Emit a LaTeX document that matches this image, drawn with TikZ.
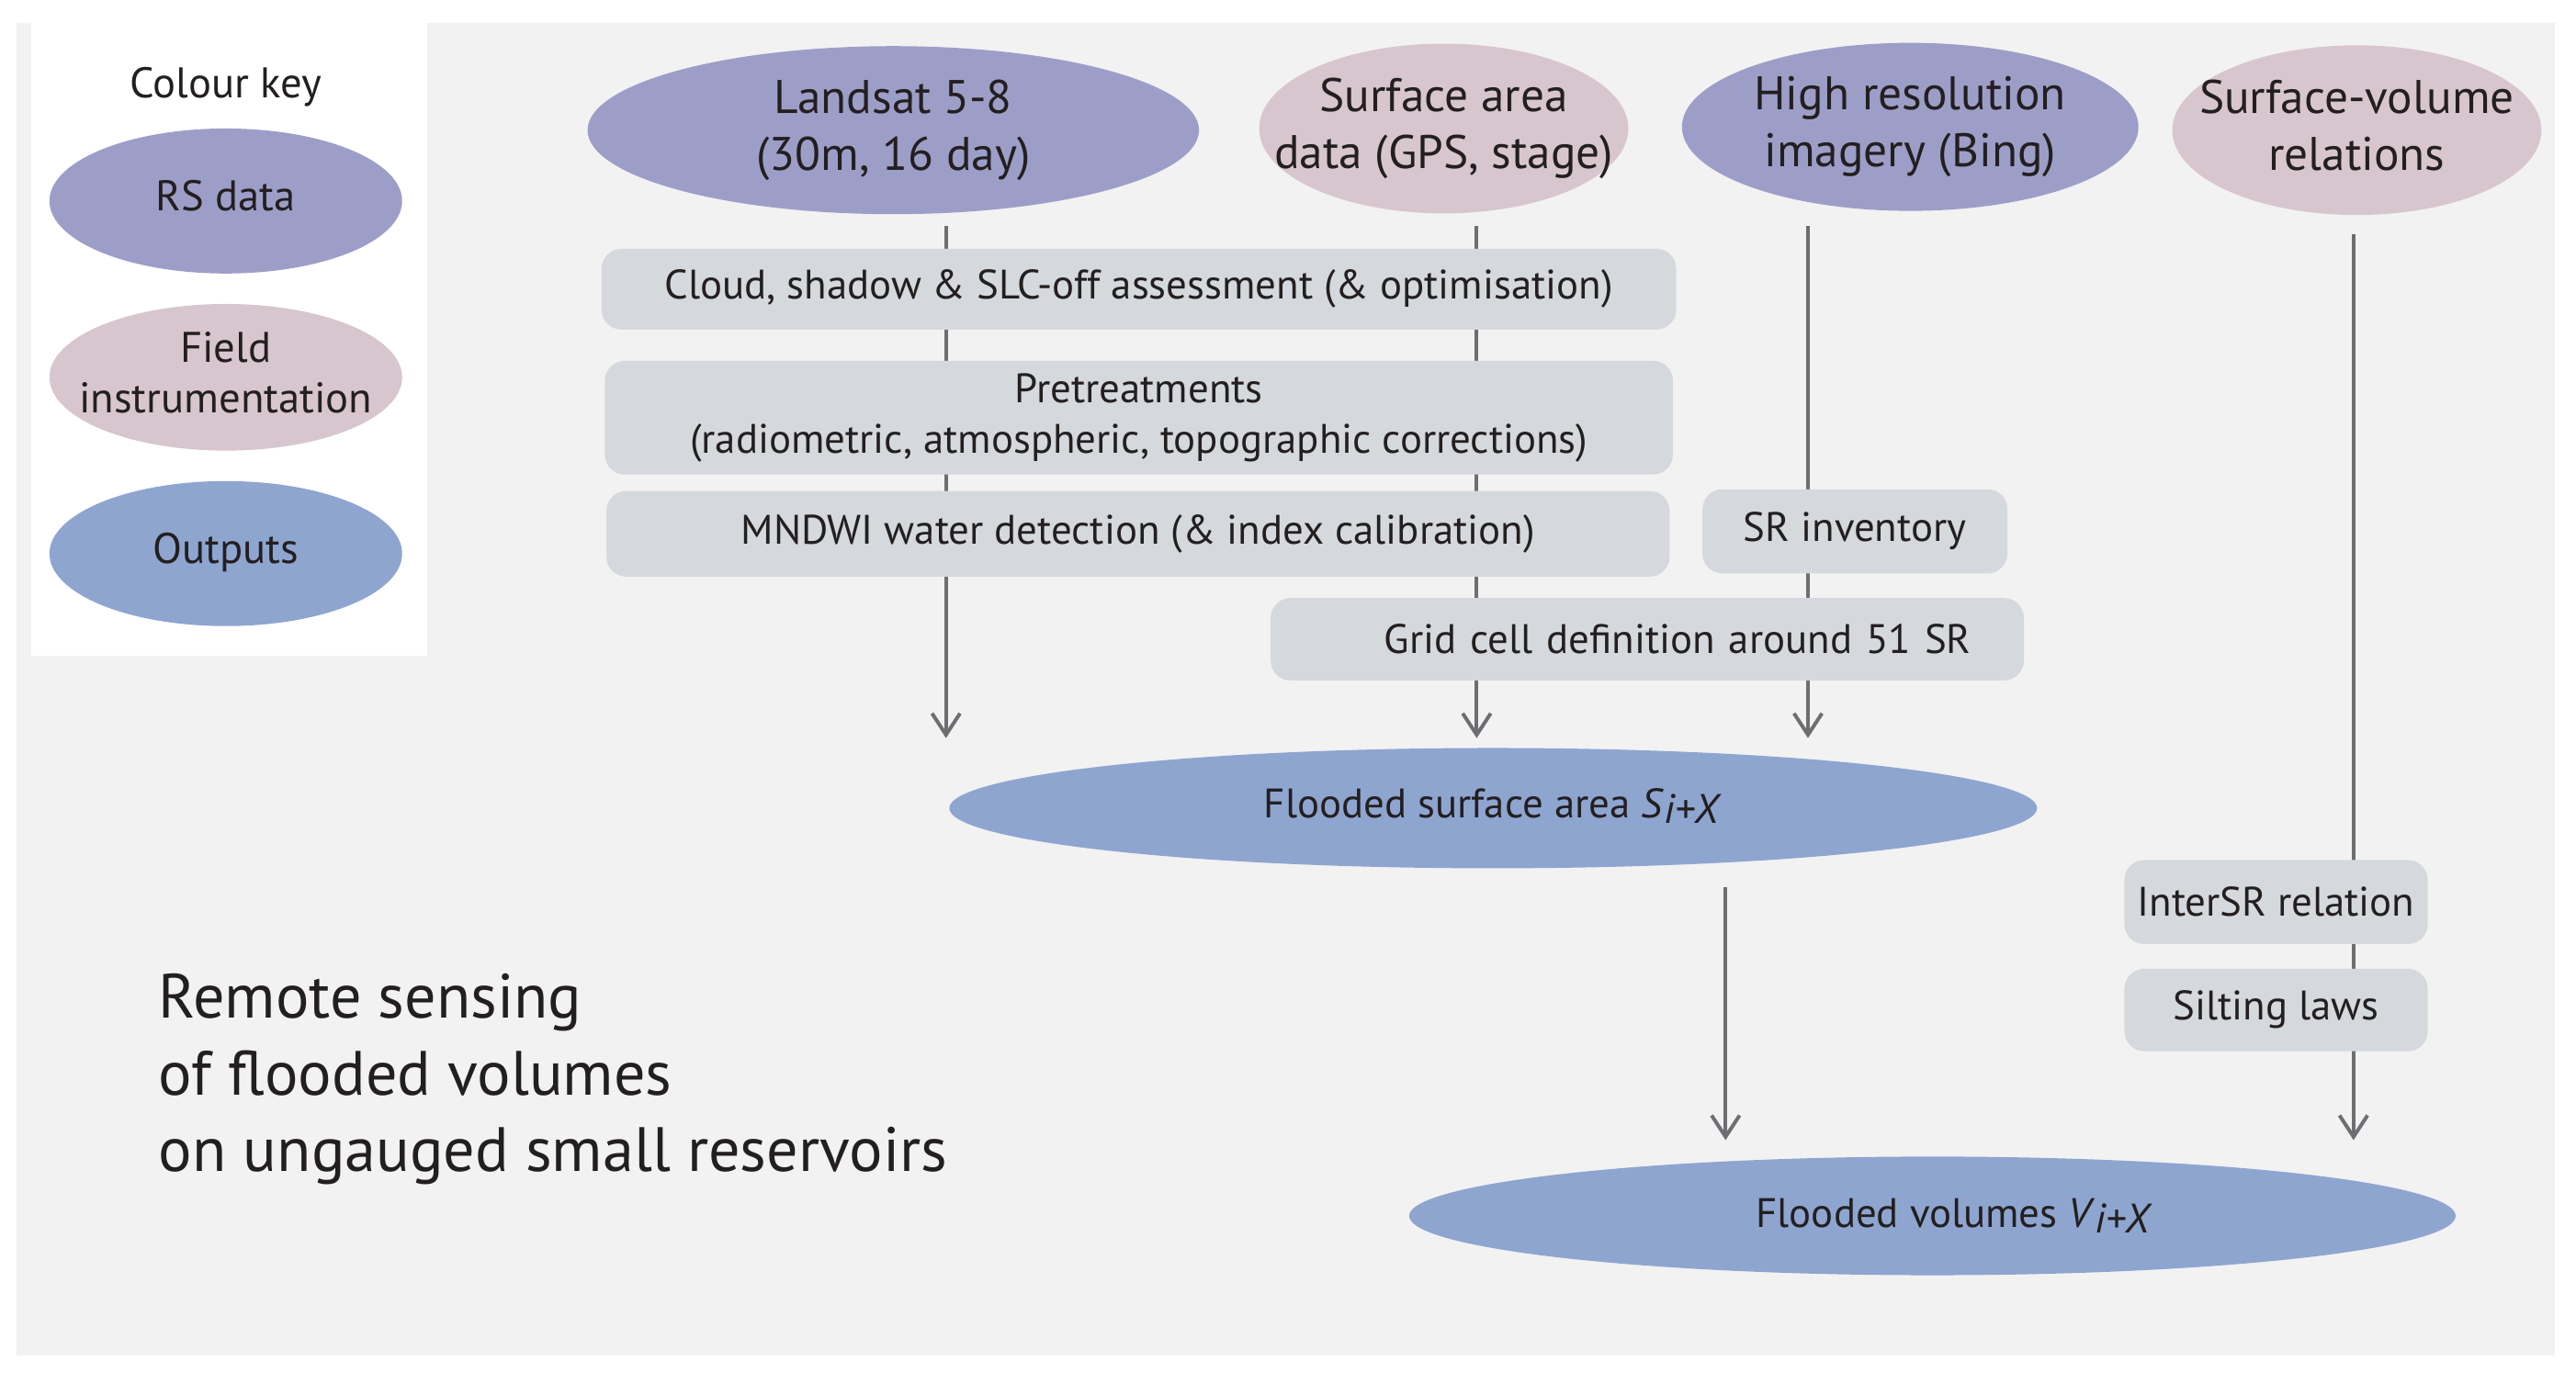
\documentclass[tikz,border=0pt]{standalone}
\usepackage{fontspec}
\setmainfont{PT Sans}
\usetikzlibrary{shapes.geometric,arrows.meta}
\definecolor{panelcol}{HTML}{F2F2F2}
\definecolor{rscol}{RGB}{157,158,200}
\definecolor{fldcol}{RGB}{216,198,206}
\definecolor{outcol}{RGB}{142,165,208}
\definecolor{boxcol}{RGB}{213,216,221}
\definecolor{linecol}{HTML}{6D6E71}
\definecolor{ink}{HTML}{231F20}
\newcommand\hfont{\fontsize{14.3}{17.3}\selectfont}
\newcommand\bfont{\fontsize{12.5}{15.3}\selectfont}
\newcommand\kfont{\fontsize{13}{15.3}\selectfont}
\newcommand\tfont{\fontsize{19}{23.25}\selectfont}
\newcommand\ml[1]{\begin{tabular}{@{}c@{}}#1\end{tabular}}
\newcommand\zw[1]{\makebox[0pt]{\ml{#1}}}
\pgfdeclarelayer{panel}
\pgfdeclarelayer{lines}
\pgfsetlayers{panel,lines,main}
\begin{document}
\begin{tikzpicture}[x=0.5pt,y=-0.5pt,
  ell/.style={ellipse, inner sep=0pt, text=ink},
  rsd/.style={ell, fill=rscol},
  fld/.style={ell, fill=fldcol},
  outp/.style={ell, fill=outcol},
  procbox/.style={rectangle, rounded corners=6pt, fill=boxcol, inner sep=0pt, text=ink, font=\bfont},
  conn/.style={draw=linecol, line width=1.1pt, -{Straight Barb[length=6.5pt,width=8.5pt]}}
]
\useasboundingbox (0,0) rectangle (1563,839.5);
\begin{pgfonlayer}{panel}
\fill[panelcol] (10,14) rectangle (1550,823);
\fill[white] (19,14) rectangle (259,398);
\end{pgfonlayer}

% colour key
\node[font=\kfont, text=ink] (keytitle) at (137,53) {Colour key};
\node[rsd, minimum width=107pt, minimum height=44pt, font=\kfont] (keyrs) at (137,122) {\zw{RS data}};
\node[fld, minimum width=107pt, minimum height=44.5pt, font=\kfont] (keyfld) at (137,229) {\zw{Field\\instrumentation}};
\node[outp, minimum width=107pt, minimum height=44pt, font=\kfont] (keyout) at (137,336) {\zw{Outputs}};

% data sources
\node[rsd, minimum width=185.5pt, minimum height=51pt, font=\hfont] (land) at (542,79) {\zw{Landsat 5-8\\(30m, 16 day)}};
\node[fld, minimum width=112pt, minimum height=51.5pt, font=\hfont] (surf) at (876,78) {\zw{Surface area\\data (GPS, stage)}};
\node[rsd, minimum width=138.5pt, minimum height=51pt, font=\hfont] (high) at (1159,77) {\zw{High resolution\\imagery (Bing)}};
\node[fld, minimum width=112pt, minimum height=51.5pt, font=\hfont] (svrel) at (1430,79) {\zw{Surface-volume\\relations}};

% processing boxes
\node[procbox, minimum width=326pt, minimum height=24.5pt] (cloud) at (691,175.5) {Cloud, shadow \& SLC-off assessment (\& optimisation)};
\node[procbox, minimum width=324pt, minimum height=34.5pt] (pret) at (691,253.5) {\ml{Pretreatments\\(radiometric, atmospheric, topographic corrections)}};
\node[procbox, minimum width=322.5pt, minimum height=26pt] (mndwi) at (690.5,324) {MNDWI water detection (\& index calibration)};
\node[procbox, minimum width=92.5pt, minimum height=25.5pt] (srinv) at (1125.5,322.5) {SR inventory};
\node[procbox, text width=196.5pt, align=right, inner xsep=16pt, minimum height=25pt] (grid) at (999.5,388) {Grid cell definition around 51 SR};
\node[procbox, minimum width=92pt, minimum height=25.5pt] (intersr) at (1381,547.5) {InterSR relation};
\node[procbox, minimum width=92pt, minimum height=25pt] (silt) at (1381,613) {Silting laws};

% outputs
\node[outp, minimum width=330pt, minimum height=36.5pt, font=\bfont] (fsurf) at (906,490.5) {\zw{Flooded surface area \textit{S}\raisebox{-0.12em}{\textit{i+X}}}};
\node[outp, minimum width=317.5pt, minimum height=36pt, font=\bfont] (fvol) at (1172.5,738) {\makebox[0pt]{\hspace*{13.5pt}Flooded volumes \textit{V}\raisebox{-0.12em}{\textit{i+X}}}};

% title
\node[anchor=west, font=\tfont, text=ink, inner sep=0pt] (title) at (96,655.2) {\begin{tabular}{@{}l@{}}Remote sensing\\of flooded volumes\\on ungauged small reservoirs\end{tabular}};

% arrow end points
\coordinate (a1) at (574,448);
\coordinate (a2) at (896,448);
\coordinate (a3) at (1097,448);
\coordinate (a4) at (1428,692);
\coordinate (a5) at (1047,692);

\begin{pgfonlayer}{lines}
\draw[conn] ([yshift=-3.5pt]land.south -| a1) -- (a1);
\draw[conn] ([yshift=-3.75pt]surf.south -| a2) -- (a2);
\draw[conn] ([yshift=-4.5pt]high.south -| a3) -- (a3);
\draw[conn] ([yshift=-5.75pt]svrel.south -| a4) -- (a4);
\draw[conn] ([yshift=-5.5pt]fsurf.south -| a5) -- (a5);
\end{pgfonlayer}
\end{tikzpicture}
\end{document}
